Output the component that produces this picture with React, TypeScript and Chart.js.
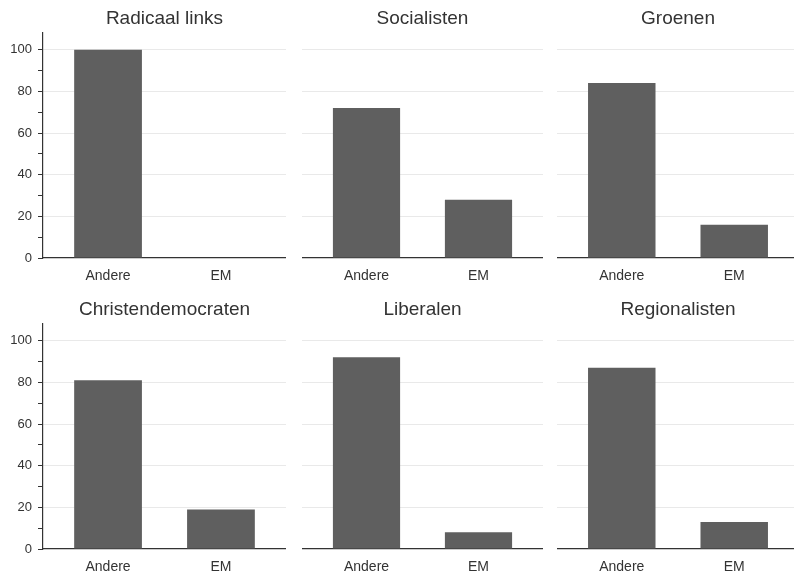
import React, { useEffect, useRef } from 'react';
import { Chart, registerables } from 'chart.js';

Chart.register(...registerables);

const categories = ['Andere', 'EM'];
const panelTitles = ['Radicaal links', 'Socialisten', 'Groenen', 'Christendemocraten', 'Liberalen', 'Regionalisten'];
const radicaalLinks = [100, 0];
const socialisten = [72, 28];
const groenen = [84, 16];
const christendemocraten = [81, 19];
const liberalen = [92, 8];
const regionalisten = [87, 13];
const yTickValues = [0, 10, 20, 30, 40, 50, 60, 70, 80, 90, 100];
const yLabelValues = [0, 20, 40, 60, 80, 100];

const panelValues = [radicaalLinks, socialisten, groenen, christendemocraten, liberalen, regionalisten];

const FONT = '"Liberation Sans", Arial, Helvetica, sans-serif';
const BAR = '#5f5f5f';
const AXIS = '#333333';
const GRID = '#e9e9e9';

const colLayout = [
  { left: 0, width: 286, yWidth: 43, showY: true },
  { left: 302, width: 241, yWidth: 0, showY: false },
  { left: 557, width: 242, yWidth: 0, showY: false },
];
const rowTops = [0, 291];
const PANEL_H = 288;
const X_AXIS_H = 30;

function Panel({ title, values, left, top, width, yWidth, showY }: any) {
  const ref = useRef<HTMLCanvasElement>(null);
  useEffect(() => {
    if (!ref.current) return;
    const chart = new Chart(ref.current, {
      type: 'bar',
      data: {
        datasets: [
          {
            data: values.map((v: number, i: number) => ({ x: i, y: v })),
            backgroundColor: BAR,
            borderWidth: 0,
            barPercentage: 0.6,
            categoryPercentage: 1,
          },
        ],
      },
      options: {
        animation: false,
        responsive: true,
        maintainAspectRatio: false,
        layout: { padding: 0 },
        plugins: {
          legend: { display: false },
          tooltip: { enabled: false },
          title: {
            display: true,
            text: title,
            fullSize: false,
            color: AXIS,
            font: { family: FONT, size: 19, weight: 'normal' as any, lineHeight: 1.2 },
            padding: { top: 7.6, bottom: 2.6 },
          },
        },
        scales: {
          x: {
            type: 'linear',
            offset: false,
            min: -0.576,
            max: 1.576,
            afterBuildTicks: (scale: any) => {
              scale.ticks = categories.map((_, i) => ({ value: i }));
            },
            grid: { display: false, drawTicks: false, offset: false },
            border: { display: true, color: AXIS, width: 1.2 },
            ticks: {
              color: AXIS,
              font: { family: FONT, size: 14 },
              padding: 10,
              maxRotation: 0,
              autoSkip: false,
              callback: (v: any) => categories[Math.round(Number(v))] ?? '',
            },
            afterFit: (scale: any) => {
              scale.height = X_AXIS_H;
            },
          },
          y: {
            min: 0,
            max: 108,
            afterBuildTicks: (scale: any) => {
              scale.ticks = yTickValues.map((v) => ({ value: v }));
            },
            grid: {
              color: (ctx: any) =>
                ctx.tick && ctx.tick.value > 0 && yLabelValues.includes(ctx.tick.value) ? GRID : 'rgba(0,0,0,0)',
              tickColor: showY ? AXIS : 'rgba(0,0,0,0)',
              drawTicks: showY,
              tickLength: 5,
              lineWidth: 1,
            },
            border: { display: showY, color: AXIS, width: 1.2 },
            ticks: {
              display: showY,
              color: AXIS,
              font: { family: FONT, size: 13 },
              padding: 6,
              autoSkip: false,
              callback: (v: any) => (yLabelValues.includes(Number(v)) ? String(v) : ''),
            },
            afterFit: (scale: any) => {
              scale.width = yWidth;
            },
          },
        },
      },
    });
    return () => chart.destroy();
  }, [title, values, yWidth, showY]);

  return (
    <div style={{ position: 'absolute', left, top, width, height: PANEL_H }}>
      <canvas ref={ref} />
    </div>
  );
}

export default function App() {
  return (
    <div
      style={{
        position: 'fixed',
        left: 0,
        top: 0,
        width: 794,
        height: 571,
        overflow: 'hidden',
        background: '#ffffff',
      }}
    >
      {panelTitles.map((t, i) => {
        const col = colLayout[i % 3];
        const top = rowTops[Math.floor(i / 3)];
        return (
          <Panel
            key={t}
            title={t}
            values={panelValues[i]}
            left={col.left}
            top={top}
            width={col.width}
            yWidth={col.yWidth}
            showY={col.showY}
          />
        );
      })}
    </div>
  );
}
